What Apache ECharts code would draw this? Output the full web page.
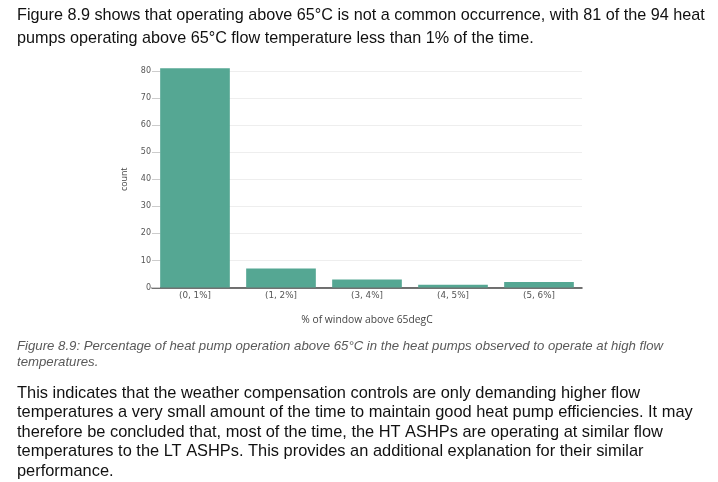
<!DOCTYPE html>
<html>
<head>
<meta charset="utf-8">
<script src="https://cdn.jsdelivr.net/npm/echarts@6/dist/echarts.min.js"></script>
<style>
html,body{margin:0;padding:0;background:#fff;}
#main{width:718px;height:482px;}
</style>
</head>
<body>
<div id="main"></div>
<script>
var categories = ['(0, 1%]', '(1, 2%]', '(3, 4%]', '(4, 5%]', '(5, 6%]'];
var counts = [81, 7, 3, 1, 2];
var yTicks = [0, 10, 20, 30, 40, 50, 60, 70, 80];

var introLines = [
  'Figure 8.9 shows that operating above 65\u00b0C is not a common occurrence, with 81 of the 94 heat',
  'pumps operating above 65\u00b0C flow temperature less than 1% of the time.'
];
var captionLines = [
  'Figure 8.9: Percentage of heat pump operation above 65\u00b0C in the heat pumps observed to operate at high flow',
  'temperatures.'
];
var bodyLines = [
  'This indicates that the weather compensation controls are only demanding higher flow',
  'temperatures a very small amount of the time to maintain good heat pump efficiencies. It may',
  'therefore be concluded that, most of the time, the HT ASHPs are operating at similar flow',
  'temperatures to the LT ASHPs. This provides an additional explanation for their similar',
  'performance.'
];

var chart = echarts.init(document.getElementById('main'));

var graphics = [];
function addLines(lines, x, y0, dy, font, color) {
  lines.forEach(function (t, i) {
    graphics.push({
      type: 'text', left: x, top: y0 + i * dy,
      style: { text: t, font: font, fill: color, textVerticalAlign: 'top' }
    });
  });
}
addLines(introLines, 17, 8, 23, '16.2px "Liberation Sans", Arial, sans-serif', '#111');
addLines(captionLines, 17, 340, 16, 'italic 13.2px "Liberation Sans", Arial, sans-serif', '#595959');
addLines(bodyLines, 17, 385, 19.5, '16.4px "Liberation Sans", Arial, sans-serif', '#111');

chart.setOption({
  animation: false,
  backgroundColor: '#fff',
  grid: { left: 152, right: 136, top: 71, bottom: 194.5, containLabel: false },
  xAxis: {
    type: 'category',
    data: categories,
    name: '% of window above 65degC',
    nameLocation: 'middle',
    nameGap: 28,
    nameTextStyle: { fontFamily: 'Open Sans', fontSize: 10.3, color: '#444' },
    axisLine: { lineStyle: { color: '#444', width: 1.5 } },
    axisTick: { show: false },
    axisLabel: { fontFamily: 'DejaVu Sans', fontSize: 8.8, color: '#555', margin: 4 }
  },
  yAxis: {
    type: 'value',
    min: 0, max: 80, interval: 10,
    offset: -8,
    name: 'count',
    nameLocation: 'middle',
    nameGap: 31,
    nameTextStyle: { fontFamily: 'Open Sans', fontSize: 8.8, color: '#444' },
    axisLine: { show: false },
    axisTick: { show: true, length: 8, lineStyle: { color: '#ccc' } },
    axisLabel: {
      fontFamily: 'DejaVu Sans', fontSize: 8, color: '#555', margin: 9,
      formatter: function (v) { return yTicks.indexOf(v) >= 0 ? String(v) : ''; }
    },
    splitLine: { lineStyle: { color: '#eeeeee', width: 1 } }
  },
  series: [{
    type: 'bar',
    data: counts,
    barCategoryGap: '19%',
    clip: false,
    itemStyle: { color: '#55a793' },
    z: 1
  }],
  graphic: graphics
});
</script>
</body>
</html>
